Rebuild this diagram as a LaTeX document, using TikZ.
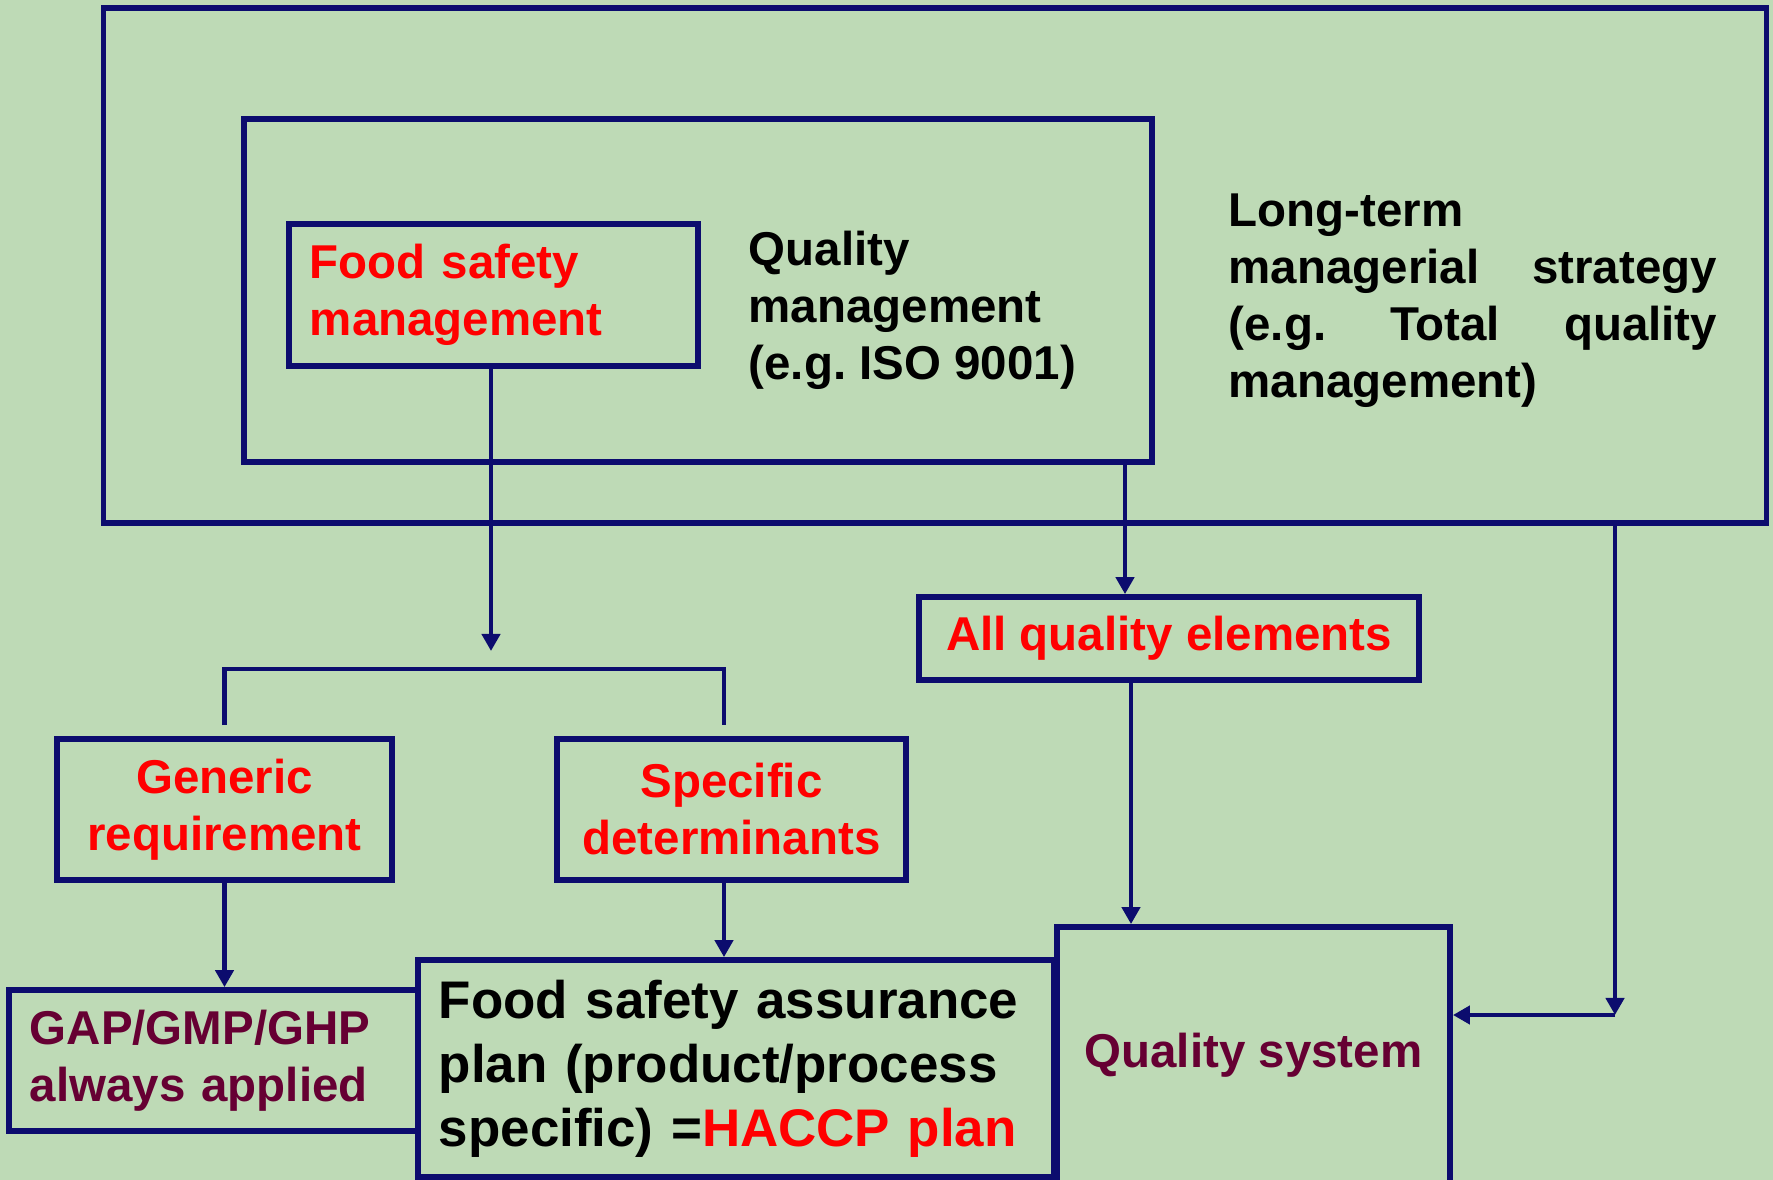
\documentclass[tikz,border=0pt]{standalone}
\usepackage{fontspec}
\setmainfont{Liberation Sans}
\usetikzlibrary{arrows.meta}
\definecolor{navy}{RGB}{12,12,110}
\definecolor{alert}{RGB}{255,0,0}
\definecolor{wine}{RGB}{102,0,51}
\definecolor{leaf}{RGB}{190,218,182}
\begin{document}
\begin{tikzpicture}[
  x=0.01cm, y=-0.01cm,
  every node/.style={font=\bfseries\fontsize{13.5}{16.2}\selectfont},
  box/.style 2 args={draw=navy, line width=1.6pt, minimum width=#1, minimum height=#2, inner sep=0pt},
  wire/.style={draw=navy, line width=1.3pt},
  flow/.style={wire, -{Triangle[length=0.17cm,width=0.18cm]}},
]
  \useasboundingbox (0,0) rectangle (1773,1180);
  \clip (0,0) rectangle (1773,1180);
  \fill[leaf] (0,0) rectangle (1773,1180);
  \node[box={16.62cm}{5.15cm}] (tqm) at (935,265.5) {};
  \node[box={9.08cm}{3.43cm}] (qm) at (698,290.5) {};
  \node[box={4.09cm}{1.42cm}, text width=3.67cm, align=left, text=alert] (fsm) at (493.5,295) {Food safety\\management};
  \node[anchor=west, inner sep=0pt, align=left] (qmtext) at (748,310) {Quality\\management\\(e.g.\ ISO 9001)};
  \node[anchor=west, inner sep=0pt, text width=4.88cm, align=left] (tqmtext) at (1228,301) {Long-term\\managerial\hfill strategy\\(e.g.\hfill Total\hfill quality\\management)};
  \node[box={5.00cm}{0.83cm}, text=alert] (elements) at (1169,638.5) {All quality elements};
  \node[box={3.35cm}{1.41cm}, align=center, text=alert] (generic) at (224.5,809.5) {Generic\\requirement};
  \node[box={3.49cm}{1.41cm}, align=center, text=alert] (specific) at (731.5,809.5) {Specific\\determinants};
  \node[box={4.09cm}{1.41cm}, text width=3.67cm, align=left, text=wine] (gap) at (213.5,1060.5) {GAP/GMP/GHP\\always applied};
  \node[box={6.36cm}{2.17cm}, text width=5.94cm, align=left, font=\bfseries\fontsize{15.05}{18.2}\selectfont] (plan) at (736,1068.5) {Food safety assurance\\plan (product/process\\specific) ={\color{alert}HACCP plan}};
  \node[box={3.93cm}{2.56cm}, text=wine] (qs) at (1253.5,1055) {Quality system};
  \coordinate (split) at (491,651);
  \coordinate (fork) at (491,669);
  \coordinate (rcol) at (724,0);
  \coordinate (col) at (1125,0);
  \coordinate (col2) at (1131,0);
  \coordinate (corner) at (1615,1015);
  \draw[wire, shorten <=0.11cm, shorten >=0.11cm] (generic.north) |- (fork) -| (specific.north -| rcol);
  \foreach \a/\b in {fsm.south -| split/split, generic.south/generic.south |- gap.north, specific.south -| rcol/plan.north -| rcol,
    qm.south -| col/elements.north -| col, elements.south -| col2/qs.north -| col2, tqm.south -| corner/corner, corner/qs.east |- corner}
    \draw[flow] (\a) -- (\b);
\end{tikzpicture}
\end{document}
